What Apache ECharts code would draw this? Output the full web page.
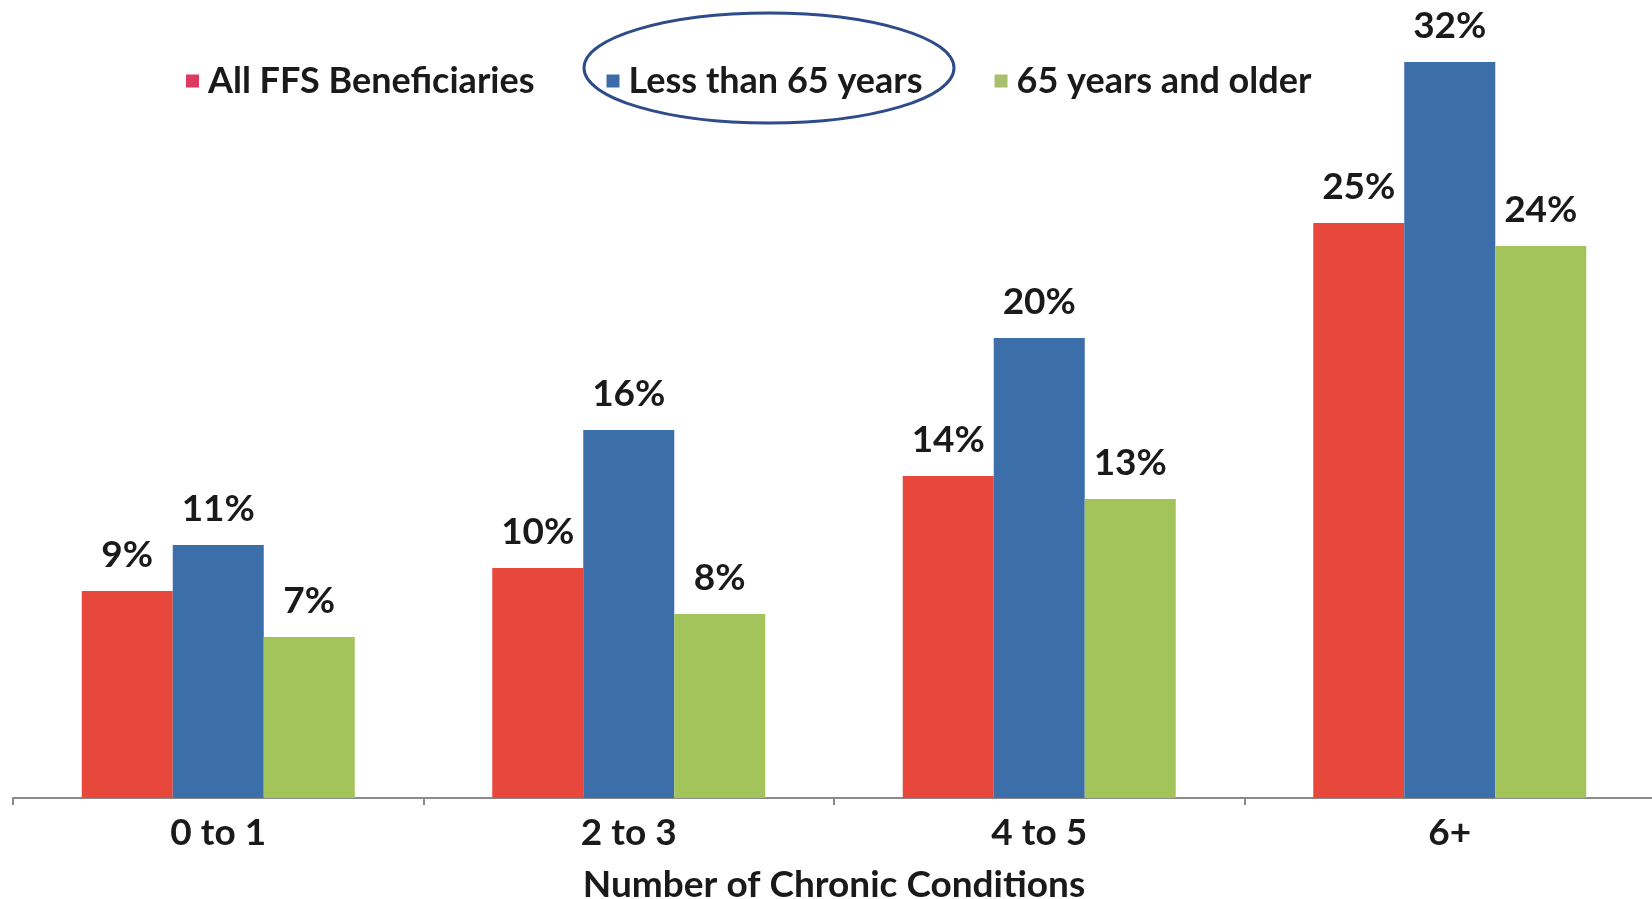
<!DOCTYPE html>
<html>
<head>
<meta charset="utf-8">
<title>Chronic conditions</title>
<script src="https://cdn.jsdelivr.net/npm/echarts@6/dist/echarts.min.js"></script>
<style>
  html, body { margin: 0; padding: 0; background: #fff; }
  #chart { width: 1652px; height: 899px; }
</style>
</head>
<body>
<div id="chart"></div>
<script>
// ========== 数据 ==========
const categories = ['0 to 1', '2 to 3', '4 to 5', '6+'];
const seriesNames = ['All FFS Beneficiaries', 'Less than 65 years', '65 years and older'];
const allFfs = [9, 10, 14, 25];
const under65 = [11, 16, 20, 32];
const over65 = [7, 8, 13, 24];
const axisTitle = 'Number of Chronic Conditions';

// 柱子颜色 / 图例方块颜色
const barColors = ['#E8483B', '#3C6EAA', '#A3C35B'];
const legendColors = ['#DE3A60', '#3D6DA9', '#A8BF6E'];

const font = 'Lato, "Noto Sans", sans-serif';

const chart = echarts.init(document.getElementById('chart'));

const makeSeries = (name, data, i) => ({
  name,
  type: 'bar',
  data,
  barWidth: 91,
  barGap: '0%',
  itemStyle: { color: barColors[i] },
  label: {
    show: true,
    position: 'top',
    distance: 17,
    formatter: '{c}%',
    fontFamily: font,
    fontWeight: 'bold',
    fontSize: 37,
    color: '#1a1a1a'
  }
});

chart.setOption({
  animation: false,
  grid: { left: 13, top: 16, width: 1642, height: 782, outerBoundsMode: 'none', containLabel: false },
  legend: {
    left: 181,
    top: 58,
    itemWidth: 13,
    itemHeight: 13,
    itemGap: 72,
    icon: 'rect',
    textStyle: { fontFamily: font, fontWeight: 'bold', fontSize: 36, color: '#1a1a1a', padding: [0, 0, 0, 4] },
    data: seriesNames.map((n, i) => ({ name: n, itemStyle: { color: legendColors[i] } }))
  },
  xAxis: {
    type: 'category',
    data: categories,
    name: axisTitle,
    nameLocation: 'middle',
    nameGap: 69,
    nameTextStyle: { fontFamily: font, fontWeight: 'bold', fontSize: 37, color: '#1a1a1a' },
    axisLine: { lineStyle: { color: '#8a8a8a', width: 2 } },
    axisTick: { show: true, length: 7, lineStyle: { color: '#8a8a8a', width: 2 } },
    axisLabel: { fontFamily: font, fontWeight: 'bold', fontSize: 37, color: '#1a1a1a', margin: 17 }
  },
  yAxis: {
    type: 'value',
    min: 0,
    max: 34,
    show: false,
    splitLine: { show: false }
  },
  // 图例第二项外的手绘椭圆标注
  graphic: [{
    type: 'ellipse',
    shape: { cx: 769, cy: 68, rx: 185, ry: 55 },
    style: { fill: 'none', stroke: '#2E4C8A', lineWidth: 3 },
    z: 100
  }],
  series: [
    makeSeries(seriesNames[0], allFfs, 0),
    makeSeries(seriesNames[1], under65, 1),
    makeSeries(seriesNames[2], over65, 2)
  ]
});
</script>
</body>
</html>
